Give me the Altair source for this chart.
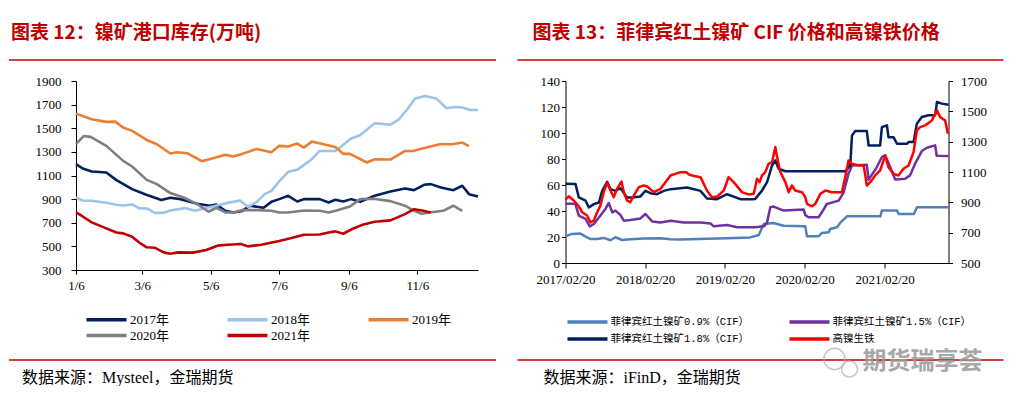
import json
import altair as alt
import pandas as pd

# ======================= LEFT PANEL DATA: 镍矿港口库存(万吨) =======================
# x = days after 1/6 (weekly readings)
L_TICK_DAYS = [0, 59, 120, 181, 243, 304]
L_TICK_LABELS = ["1/6", "3/6", "5/6", "7/6", "9/6", "11/6"]
L_Y_TICKS = [300, 500, 700, 900, 1100, 1300, 1500, 1700, 1900]
L_SERIES = ["2017年", "2018年", "2019年", "2020年", "2021年"]
L_COLORS = ["#002060", "#9DC3E6", "#ED7D31", "#808080", "#C00000"]

D2017 = [0, 6, 14, 27, 36, 50, 62, 76, 84, 93, 108, 119, 125, 133, 140, 148, 155, 161, 167, 174, 181,
         189, 197, 203, 217, 225, 231, 238, 245, 253, 266, 280, 293, 301, 310, 316, 325, 336, 344, 350, 358]
V2017 = [1196, 1159, 1134, 1125, 1061, 985, 939, 892, 911, 900, 861, 844, 855, 801, 787, 800, 844, 835, 827, 877, 900,
         928, 880, 900, 900, 872, 894, 880, 900, 877, 928, 965, 990, 976, 1021, 1027, 999, 976, 1013, 942, 922]

D2018 = [0, 6, 14, 27, 36, 42, 50, 56, 63, 70, 78, 84, 97, 106, 119, 134, 146, 153, 161, 168, 174, 181,
         189, 197, 210, 217, 231, 245, 253, 266, 280, 287, 295, 302, 311, 321, 330, 338, 344, 351, 358]
V2018 = [914, 886, 886, 869, 852, 846, 855, 824, 821, 784, 784, 804, 824, 801, 832, 866, 889, 835, 877, 942, 970, 1050,
         1131, 1148, 1238, 1308, 1308, 1413, 1441, 1542, 1531, 1570, 1661, 1751, 1773, 1751, 1669, 1680, 1675, 1655, 1655]

D2019 = [0, 14, 27, 35, 42, 50, 63, 72, 84, 90, 99, 112, 122, 133, 140, 148, 161, 174, 181,
         189, 197, 203, 210, 231, 238, 244, 259, 266, 280, 293, 300, 312, 324, 335, 344, 350]
V2019 = [1624, 1576, 1554, 1556, 1506, 1478, 1401, 1365, 1286, 1297, 1289, 1221, 1247, 1275, 1261, 1283, 1325, 1297, 1351,
         1345, 1370, 1337, 1387, 1342, 1283, 1283, 1210, 1238, 1235, 1308, 1308, 1337, 1365, 1365, 1379, 1348]

D2020 = [0, 7, 13, 27, 42, 50, 63, 72, 84, 96, 108, 118, 125, 133, 140, 148, 161, 174, 181,
         189, 203, 217, 225, 232, 244, 253, 265, 280, 293, 301, 308, 315, 327, 336, 344]
V2020 = [1365, 1435, 1427, 1351, 1224, 1176, 1063, 1027, 951, 914, 858, 793, 827, 787, 787, 807, 807, 801, 787,
         787, 804, 801, 787, 804, 838, 900, 903, 883, 844, 801, 776, 787, 801, 844, 801]

D2021 = [0, 6, 14, 27, 36, 42, 50, 56, 63, 70, 78, 84, 91, 104, 116, 126, 135, 147, 153, 165, 181,
         191, 203, 217, 225, 231, 238, 247, 256, 266, 280, 293, 301, 308, 316]
V2021 = [787, 753, 703, 652, 618, 610, 582, 534, 492, 489, 449, 438, 449, 447, 469, 506, 514, 520, 500, 514, 545,
         568, 599, 601, 618, 627, 607, 652, 686, 708, 720, 773, 815, 804, 787]

# ============ RIGHT PANEL DATA: 菲律宾红土镍矿CIF价格(左轴) 和 高镍铁价格(右轴) ============
# x = days after 2017/02/20
R_TICK_DAYS = [0, 365, 730, 1095, 1461]
R_TICK_LABELS = ["2017/02/20", "2018/02/20", "2019/02/20", "2020/02/20", "2021/02/20"]
R_YL_TICKS = [0, 20, 40, 60, 80, 100, 120, 140]
R_YR_TICKS = [500, 700, 900, 1100, 1300, 1500, 1700]
R_SERIES = ["菲律宾红土镍矿0.9%（CIF）", "菲律宾红土镍矿1.5%（CIF）", "菲律宾红土镍矿1.8%（CIF）", "高镍生铁"]
R_COLORS = ["#4F81BD", "#7030A0", "#002060", "#FF0000"]

D09 = [0, 30, 69, 92, 114, 145, 175, 206, 229, 259, 282, 358, 435, 480, 526, 740, 846, 885, 908, 953, 999,
       1098, 1106, 1159, 1174, 1205, 1212, 1243, 1258, 1289, 1442, 1449, 1518, 1526, 1595, 1610, 1754]
V09 = [20.5, 22.4, 22.6, 20.3, 18.5, 18.5, 19.3, 17.5, 19.8, 17.7, 18.0, 18.8, 19.0, 18.3, 18.0, 19.0, 19.7, 21.5, 30.0, 30.8, 28.7,
       28.2, 20.5, 20.5, 23.1, 23.6, 26.2, 27.5, 30.8, 35.9, 35.9, 40.3, 40.3, 37.7, 37.7, 42.9, 42.9]

D15 = [0, 45, 61, 92, 111, 130, 160, 183, 198, 214, 229, 252, 267, 297, 343, 366, 397, 435, 481, 542, 618, 664, 679, 740,
       786, 869, 908, 923, 938, 953, 999, 1091, 1098, 1113, 1159, 1174, 1197, 1251, 1274, 1296, 1312, 1380, 1388, 1426,
       1449, 1464, 1487, 1510, 1556, 1578, 1601, 1632, 1655, 1693, 1700, 1754]
V15 = [45.5, 45.5, 36.5, 33.9, 28.2, 30.0, 36.5, 41.6, 46.2, 39.0, 40.3, 36.9, 32.5, 33.0, 34.3, 37.7, 32.0, 31.2, 32.5, 31.2,
       31.2, 30.4, 28.2, 29.2, 27.5, 27.5, 28.2, 31.1, 42.9, 43.4, 40.3, 41.1, 37.0, 35.2, 35.2, 39.0, 45.4, 48.0, 54.4, 68.6,
       75.0, 75.5, 64.0, 73.8, 81.5, 82.8, 73.8, 64.3, 64.8, 67.4, 76.4, 86.1, 88.7, 90.5, 82.5, 82.3]

D18 = [0, 46, 61, 92, 107, 130, 153, 168, 191, 206, 229, 252, 282, 305, 343, 366, 389, 419, 450, 481, 557, 618, 648, 694,
       740, 801, 854, 869, 900, 923, 946, 961, 976, 1007, 1281, 1304, 1312, 1327, 1380, 1388, 1441, 1449, 1472, 1479,
       1502, 1518, 1563, 1571, 1594, 1609, 1632, 1662, 1693, 1701, 1724, 1754]
V18 = [61.0, 60.7, 50.4, 47.9, 42.7, 45.3, 46.5, 55.5, 62.5, 56.8, 55.5, 57.5, 50.4, 50.4, 51.2, 55.5, 53.7, 52.9, 55.5, 56.8,
       58.1, 55.5, 49.6, 49.1, 52.9, 49.1, 49.1, 49.3, 55.7, 62.2, 75.0, 78.9, 72.5, 70.6, 70.6, 75.0, 98.1, 101.5, 101.5, 90.4,
       90.4, 104.5, 105.9, 96.8, 96.8, 91.7, 91.7, 93.0, 93.0, 107.2, 112.3, 113.6, 113.6, 123.8, 122.6, 121.8]

DNPI = [0, 15, 38, 61, 76, 99, 114, 130, 145, 160, 175, 191, 206, 221, 236, 256, 267, 282, 297, 313, 336, 358, 374, 404,
        435, 458, 481, 503, 526, 554, 564, 580, 618, 648, 671, 694, 725, 747, 770, 808, 839, 862, 869, 877, 889, 900, 915,
        930, 946, 961, 969, 984, 1007, 1022, 1037, 1052, 1083, 1098, 1106, 1129, 1144, 1167, 1190, 1220, 1266, 1289, 1296,
        1312, 1342, 1365, 1373, 1380, 1396, 1418, 1441, 1464, 1479, 1502, 1525, 1548, 1571, 1594, 1609, 1624, 1647, 1678,
        1701, 1716, 1739, 1751]
VNPI = [918, 940, 912, 874, 835, 813, 768, 780, 835, 879, 967, 1028, 978, 934, 989, 1037, 967, 912, 901, 945, 1000, 1011,
        1004, 967, 989, 1033, 1077, 1088, 1099, 1099, 1084, 1077, 1066, 978, 934, 938, 978, 1066, 1033, 967, 951, 956, 1000,
        1055, 1033, 1077, 1099, 1154, 1165, 1264, 1198, 1099, 1033, 967, 1011, 978, 967, 934, 890, 874, 890, 956, 978, 967,
        967, 1121, 1176, 1154, 1143, 1143, 1077, 1011, 1033, 1077, 1110, 1209, 1132, 1088, 1077, 1121, 1143, 1231, 1374,
        1396, 1407, 1440, 1506, 1462, 1440, 1352]

TITLE_L = "图表 12：镍矿港口库存(万吨)"
TITLE_R = "图表 13：菲律宾红土镍矿 CIF 价格和高镍铁价格"
SOURCE_L = "数据来源：Mysteel，金瑞期货"
SOURCE_R = "数据来源：iFinD，金瑞期货"
WATERMARK = "期货瑞享荟"

# ======================= styling =======================
RED = "#C00000"
TITLE_FONT = "Noto Sans CJK SC"
AXIS_FONT = "Liberation Serif"
LEG_FONT_L = "Liberation Serif, Noto Sans CJK SC"
LEG_FONT_R = "Liberation Mono, Noto Sans CJK SC"
SRC_FONT = "Liberation Serif, Noto Sans CJK SC"

W_L, H_L = 402, 189
W_R, H_R = 383, 182


def tick_expr(days, labels):
    return f"{json.dumps(labels, ensure_ascii=False)}[indexof({json.dumps(days)}, datum.value)]"


def long_df(names, days, vals):
    parts = [pd.DataFrame({"series": n, "day": d, "value": v}) for n, d, v in zip(names, days, vals)]
    return pd.concat(parts, ignore_index=True)


ONE = pd.DataFrame({"k": [0]})


def text_mark(txt, x, y, size, color="#000000", font=TITLE_FONT, weight="normal", align="left", opacity=1.0):
    return alt.Chart(ONE).mark_text(text=txt, align=align, baseline="middle", fontSize=size, font=font,
                                    fontWeight=weight, color=color, opacity=opacity).encode(
        x=alt.value(x), y=alt.value(y))


def hrule(x1, x2, y, color=RED, width=1.5):
    return alt.Chart(ONE).mark_rule(color=color, strokeWidth=width).encode(
        x=alt.value(x1), x2=alt.value(x2), y=alt.value(y))


# ======================= left panel =======================
left_df = long_df(L_SERIES, [D2017, D2018, D2019, D2020, D2021], [V2017, V2018, V2019, V2020, V2021])

left_lines = alt.Chart(left_df).mark_line(strokeJoin="round").encode(
    x=alt.X("day:Q", scale=alt.Scale(domain=[0, 358], nice=False, zero=False),
            axis=alt.Axis(values=L_TICK_DAYS, labelExpr=tick_expr(L_TICK_DAYS, L_TICK_LABELS), title=None,
                          tickSize=4, labelPadding=5, labelFlush=False)),
    y=alt.Y("value:Q", scale=alt.Scale(domain=[300, 1900], nice=False, zero=False),
            axis=alt.Axis(values=L_Y_TICKS, title=None, tickSize=5, labelPadding=10, format="d")),
    color=alt.Color("series:N", scale=alt.Scale(domain=L_SERIES, range=L_COLORS),
                    legend=alt.Legend(title=None, orient="none", legendX=4, legendY=232, columns=3,
                                      direction="horizontal",
                                      symbolType="M0,0H10", symbolSize=64, symbolStrokeWidth=3.5,
                                      labelFont=LEG_FONT_L, labelFontSize=13, labelColor="#000000",
                                      labelOffset=37, columnPadding=50, rowPadding=1, padding=0,
                                      labelLimit=300)),
    strokeWidth=alt.StrokeWidth("series:N", scale=alt.Scale(domain=L_SERIES, range=[2.6, 2.6, 2.6, 2.6, 3.8]),
                                legend=None),
)

left = alt.layer(
    left_lines,
    hrule(0, 10, -72, color="#ffffff", width=1),  # invisible top anchor
    text_mark(TITLE_L, -65, -48, 19, color=RED, weight="bold"),
    hrule(-67, 420, -21),
    hrule(-67, 420, 279),
    text_mark(SOURCE_L, -54, 297, 16, font=SRC_FONT),
).properties(width=W_L, height=H_L)

# ======================= right panel =======================
ore_df = long_df(R_SERIES[:3], [D09, D15, D18], [V09, V15, V18])
npi_df = long_df(R_SERIES[3:], [DNPI], [VNPI])

r_x = alt.X("day:Q", scale=alt.Scale(domain=[0, 1754], nice=False, zero=False),
            axis=alt.Axis(values=R_TICK_DAYS, labelExpr=tick_expr(R_TICK_DAYS, R_TICK_LABELS), title=None,
                          tickSize=5, labelPadding=5, labelFlush=False))
r_color = alt.Color("series:N", scale=alt.Scale(domain=R_SERIES, range=R_COLORS),
                    legend=alt.Legend(title=None, orient="none", legendX=-4, legendY=235, columns=2,
                                      direction="horizontal",
                                      symbolType="M0,0H10", symbolSize=64, symbolStrokeWidth=3.5,
                                      labelFont=LEG_FONT_R, labelFontSize=10.5, labelColor="#000000",
                                      labelOffset=37, columnPadding=33, rowPadding=3, padding=0,
                                      labelLimit=400))

ore = alt.Chart(ore_df).mark_line(strokeWidth=2.5, strokeJoin="round").encode(
    x=r_x,
    y=alt.Y("value:Q", scale=alt.Scale(domain=[0, 140], nice=False),
            axis=alt.Axis(values=R_YL_TICKS, title=None, orient="left", tickSize=4, labelPadding=2, format="d")),
    color=r_color,
)
npi = alt.Chart(npi_df).mark_line(strokeWidth=2.5, strokeJoin="round").encode(
    x=r_x,
    y=alt.Y("value:Q", scale=alt.Scale(domain=[500, 1700], nice=False, zero=False),
            axis=alt.Axis(values=R_YR_TICKS, title=None, orient="right", tickSize=4, labelPadding=8,
                          format="d")),
    color=r_color,
)

icon_big = alt.Chart(ONE).mark_point(shape="circle", filled=False, size=452, color="#b0b0b0",
                                     strokeWidth=1.5).encode(x=alt.value(269), y=alt.value(278))
icon_small = alt.Chart(ONE).mark_point(shape="circle", filled=False, size=254, color="#b0b0b0",
                                       strokeWidth=1.5).encode(x=alt.value(284), y=alt.value(288))

right = alt.layer(
    ore, npi,
    hrule(0, 10, -72, color="#ffffff", width=1),  # invisible top anchor
    text_mark(TITLE_R, -33, -48, 19, color=RED, weight="bold"),
    hrule(-48, 438, -21),
    hrule(-48, 438, 279),
    text_mark(SOURCE_R, -22, 297, 16, font=SRC_FONT),
    icon_big, icon_small,
    text_mark(WATERMARK, 297, 281, 24, color="#9a9a9a", weight="bold", opacity=0.85),
).resolve_scale(y="independent").properties(width=W_R, height=H_R)

chart = alt.hconcat(left, right, spacing=19.5).resolve_scale(color="independent").properties(
    padding=0
).configure_view(stroke=None).configure_axis(
    labelFont=AXIS_FONT, labelFontSize=13, labelColor="#000000", domainColor="#000000",
    tickColor="#000000", grid=False, domainWidth=1, tickWidth=1,
)

chart.save("out.html", embed_options={"renderer": "svg", "actions": False})
